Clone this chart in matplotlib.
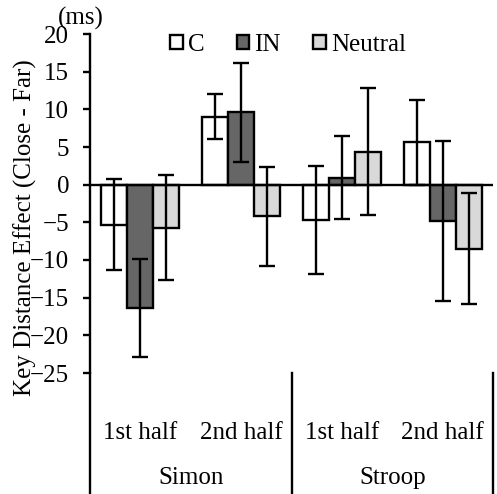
import matplotlib
matplotlib.use("Agg")
import matplotlib.pyplot as plt
from matplotlib.patches import Patch
import numpy as np

plt.rcParams["font.family"] = ["Liberation Serif", "DejaVu Serif"]

# data
halves = ["1st half", "2nd half", "1st half", "2nd half"]
tasks = ["Simon", "Stroop"]
series = ["C", "IN", "Neutral"]
c_vals = [-5.3, 9.0, -4.7, 5.6]
c_err = [6.0, 3.0, 7.2, 5.7]
in_vals = [-16.4, 9.6, 0.9, -4.8]
in_err = [6.5, 6.6, 5.5, 10.6]
neu_vals = [-5.7, -4.2, 4.4, -8.5]
neu_err = [7.0, 6.6, 8.4, 7.4]
colors = ["#ffffff", "#666666", "#d9d9d9"]

fs = 18
lw = 1.7
fig = plt.figure(figsize=(4.97, 4.94), dpi=100)
ax = fig.add_axes([90 / 497, 1 - 373 / 494, 403 / 497, 339 / 494])

x = np.arange(len(halves))
w = 0.258
for i, (vals, errs) in enumerate(zip([c_vals, in_vals, neu_vals], [c_err, in_err, neu_err])):
    pos = x + (i - 1) * w
    ax.bar(pos, vals, width=w, color=colors[i], edgecolor="black", linewidth=lw, zorder=2)
    ax.errorbar(pos, vals, yerr=errs, fmt="none", ecolor="black", elinewidth=lw,
                capsize=5.5, capthick=lw, zorder=3)

ax.axhline(0, color="black", linewidth=lw, zorder=4)
ax.set_xlim(-0.5, 3.5)
ax.set_ylim(-25, 20)
ax.set_yticks(np.arange(-25, 21, 5))
ax.set_xticks([])
ax.tick_params(axis="y", labelsize=fs, width=lw, length=5, pad=10)
for s in ["top", "right", "bottom"]:
    ax.spines[s].set_visible(False)
ax.spines["left"].set_linewidth(lw)

# extended axis line and group separators below the plot
tr = ax.get_xaxis_transform()
low = -(494 - 373) / 339
ax.plot([-0.5, -0.5], [0, low], transform=tr, color="black", lw=lw, clip_on=False)
for xs in [1.5, 3.5]:
    ax.plot([xs, xs], [0, low], transform=tr, color="black", lw=lw, clip_on=False)

for xi, lab in zip(x, halves):
    ax.text(xi, -60 / 339, lab, transform=tr, ha="center", va="center", fontsize=fs)
for j, t in enumerate(tasks):
    ax.text(2 * j + 0.5, -105 / 339, t, transform=tr, ha="center", va="center", fontsize=fs)

fig.text(25 / 497, 1 - 228 / 494, "Key Distance Effect (Close - Far)", rotation=90,
         ha="center", va="center", fontsize=fs)
fig.text(58 / 497, 1 - 18 / 494, "(ms)", ha="left", va="center", fontsize=fs)

handles = [Patch(facecolor=c, edgecolor="black", linewidth=lw) for c in colors]
fig.legend(handles, series, loc="center", bbox_to_anchor=(288 / 497, 1 - 45 / 494),
           ncol=3, frameon=False, fontsize=fs, handlelength=0.5, handleheight=0.5,
           handletextpad=0.2, columnspacing=1.3, borderpad=0)

fig.savefig("out.png", dpi=100)
